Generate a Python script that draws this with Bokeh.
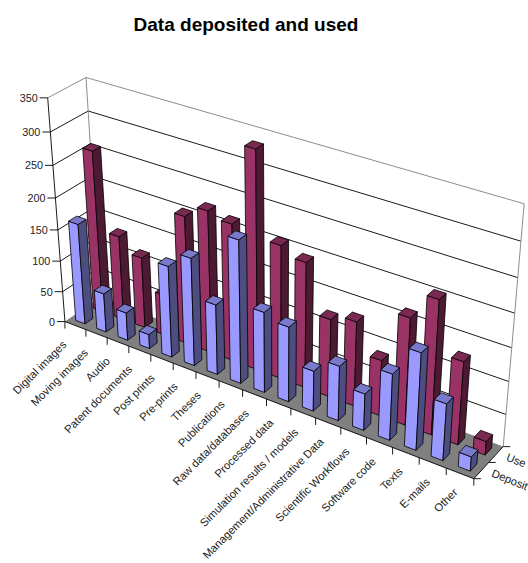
import numpy as np
from bokeh.plotting import figure
from bokeh.models import Range1d
from bokeh.core.properties import value
from bokeh.embed import file_html
from bokeh.resources import INLINE

title = "Data deposited and used"
categories = ["Digital images", "Moving images", "Audio", "Patent documents", "Post prints",
              "Pre-prints", "Theses", "Publications", "Raw data/databases", "Processed data",
              "Simulation results / models", "Management/Administrative Data",
              "Scientific Workflows", "Software code", "Texts", "E-mails", "Other"]
series_names = ["Deposit", "Use"]
deposit = [162, 63, 45, 23, 145, 170, 111, 222, 126, 117, 63, 85, 57, 102, 148, 87, 22]
use = [258, 136, 114, 66, 203, 223, 215, 335, 207, 194, 121, 131, 86, 164, 204, 127, 21]
value_ticks = [0, 50, 100, 150, 200, 250, 300, 350]

BAR = 0.44
FONT = value("Liberation Sans")
N, VMAX, DEPTH = len(categories), value_ticks[-1], len(series_names)

# Pin the box corners to the page and solve for the perspective camera.
box_corners = [((0, 0, 0), (64, 321)), ((N, 0, 0), (473.3, 478.3)), ((N, 0, DEPTH), (502.7, 446)),
               ((0, 0, DEPTH), (100, 297)), ((0, VMAX, 0), (47.7, 97.3)),
               ((0, VMAX, DEPTH), (85, 77)), ((N, VMAX, DEPTH), (523.7, 203.3))]
rows = []
for (X, Y, Z), (u, v) in box_corners:
    rows.append([X, Y, Z, 1, 0, 0, 0, 0, -u * X, -u * Y, -u * Z, -u])
    rows.append([0, 0, 0, 0, X, Y, Z, 1, -v * X, -v * Y, -v * Z, -v])
CAMERA = np.linalg.svd(np.array(rows, float))[2][-1].reshape(3, 4)


def proj(x, y, z):
    h = CAMERA @ np.array([x, y, z, 1.0])
    return h[0] / h[2], h[1] / h[2]


p = figure(width=528, height=563, x_range=Range1d(0, 528), y_range=Range1d(563, 0),
           output_backend="svg", toolbar_location=None, min_border=0, outline_line_color=None)
p.axis.visible = False
p.grid.visible = False


def face(pts, fill, line="black", width=0.8):
    c = [proj(*q) for q in pts]
    p.patch([q[0] for q in c], [q[1] for q in c], fill_color=fill, line_color=line, line_width=width)


def seg(a, b, color="black", width=0.9):
    p.line([a[0], b[0]], [a[1], b[1]], line_color=color, line_width=width)


# Gridlines on the side and back walls.
for t in value_ticks[1:-1]:
    seg(proj(0, t, 0), proj(0, t, DEPTH))
    seg(proj(0, t, DEPTH), proj(N, t, DEPTH))

# Wall outline.
GREY = "#808080"
seg(proj(0, VMAX, 0), proj(0, VMAX, DEPTH), GREY)
seg(proj(0, VMAX, DEPTH), proj(N, VMAX, DEPTH), GREY)
seg(proj(0, VMAX, DEPTH), proj(0, 0, DEPTH), GREY)
seg(proj(N, VMAX, DEPTH), proj(N, 0, DEPTH), GREY)

# Floor.
face([(0, 0, 0), (N, 0, 0), (N, 0, DEPTH), (0, 0, DEPTH)], GREY, None)

# Bars, rear series first, each series left to right.
palette = {1: ("#993366", "#7a2951", "#4d1a33"), 0: ("#9999FF", "#7a7acc", "#4d4d80")}
for s, vals in [(1, use), (0, deposit)]:
    front, top, side = palette[s]
    z0 = s + (1 - BAR) / 2
    z1 = z0 + BAR
    for i, v in enumerate(vals):
        x0 = i + (1 - BAR) / 2
        x1 = x0 + BAR
        face([(x0, 0, z0), (x1, 0, z0), (x1, v, z0), (x0, v, z0)], front)
        face([(x1, 0, z0), (x1, 0, z1), (x1, v, z1), (x1, v, z0)], side)
        face([(x0, v, z0), (x1, v, z0), (x1, v, z1), (x0, v, z1)], top)

# Axis lines.
seg(proj(0, 0, 0), proj(0, VMAX, 0))
seg(proj(0, 0, 0), proj(N, 0, 0))
seg(proj(N, 0, 0), proj(N, 0, DEPTH))

# Value axis ticks and labels.
xs, ys, labels = [], [], []
for t in value_ticks:
    x, y = proj(0, t, 0)
    seg((x - 8, y), (x, y))
    xs.append(x - 10)
    ys.append(y)
    labels.append(str(t))
p.text(xs, ys, text=labels, text_font=FONT, text_font_size="10.8px", text_color="#222222",
       text_align="right", text_baseline="middle")

# Category ticks and slanted labels.
for i in range(N + 1):
    x, y = proj(i, 0, 0)
    seg((x, y), (x, y + 7))
xs, ys = [], []
for i in range(N):
    x, y = proj(i + 0.5, 0, 0)
    xs.append(x - 11 + 6.5 * i / (N - 1))
    ys.append(y + 17)
p.text(xs, ys, text=categories, text_font=FONT, text_font_size="11.2px", text_color="#222222",
       text_align="right", text_baseline="middle", angle=45, angle_units="deg")

# Depth axis ticks and labels.
for z in range(DEPTH + 1):
    x, y = proj(N, 0, z)
    seg((x, y), (x + 7, y))
xs, ys = [], []
for z in range(DEPTH):
    x, y = proj(N, 0, z + 0.5)
    xs.append(x + 11)
    ys.append(y + 2)
p.text(xs, ys, text=series_names, text_font=FONT, text_font_size="11.2px", text_color="#222222",
       text_align="left", text_baseline="middle", angle=-22, angle_units="deg")

p.text([245.5], [24], text=[title], text_font=FONT, text_font_size="19px", text_font_style="bold",
       text_color="black", text_align="center", text_baseline="middle")

open("out.html", "w").write(file_html(p, INLINE))
